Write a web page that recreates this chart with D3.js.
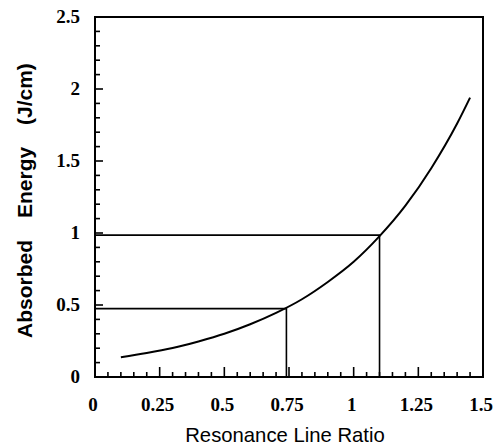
<!DOCTYPE html>
<html><head><meta charset="utf-8">
<script src="https://cdn.jsdelivr.net/npm/d3@7"></script>
<style>html,body{margin:0;padding:0;background:#fff;}</style>
</head><body>
<script>
// Data
const curveX = [0.1, 0.2, 0.3, 0.4, 0.5, 0.6, 0.7, 0.8, 0.9, 1.0, 1.1, 1.2, 1.3, 1.4, 1.45];
const curveY = [0.137, 0.166, 0.201, 0.247, 0.300, 0.366, 0.445, 0.54, 0.66, 0.80, 0.978, 1.19, 1.45, 1.76, 1.94];
const guideX = [0.74, 1.1];
const guideY = [0.475, 0.985];
const xTickLabels = ["0", "0.25", "0.5", "0.75", "1", "1.25", "1.5"];
const xTickValues = [0, 0.25, 0.5, 0.75, 1, 1.25, 1.5];
const yTickLabels = ["0", "0.5", "1", "1.5", "2", "2.5"];
const yTickValues = [0, 0.5, 1, 1.5, 2, 2.5];
const xTitle = "Resonance Line Ratio";
const yTitleWords = ["Absorbed", "Energy", "(J/cm)"];

const W = 497, H = 447;
const m = {left: 95, right: 483, top: 17, bottom: 377};
const svg = d3.select("body").append("svg").attr("width", W).attr("height", H);

const x = d3.scaleLinear().domain([0, 1.5]).range([m.left, m.right]);
const y = d3.scaleLinear().domain([0, 2.5]).range([m.bottom, m.top]);

// minor/major ticks (inward)
const xMinor = d3.range(0, 1.5001, 0.05).map(v => +v.toFixed(2));
const yMinor = d3.range(0, 2.5001, 0.1).map(v => +v.toFixed(2));
const isMajor = (v, step) => Math.abs(v / step - Math.round(v / step)) < 1e-6;

svg.append("g").selectAll("line").data(xMinor).join("line")
  .attr("x1", d => x(d)).attr("x2", d => x(d))
  .attr("y1", y(0)).attr("y2", d => y(0) - (isMajor(d, 0.25) ? 10 : 5))
  .attr("stroke", "#000").attr("stroke-width", 1.6);

svg.append("g").selectAll("line").data(yMinor).join("line")
  .attr("y1", d => y(d)).attr("y2", d => y(d))
  .attr("x1", x(0)).attr("x2", d => x(0) + (isMajor(d, 0.5) ? 8 : 5))
  .attr("stroke", "#000").attr("stroke-width", 1.6);

// frame
svg.append("rect").attr("x", m.left).attr("y", m.top)
  .attr("width", m.right - m.left).attr("height", m.bottom - m.top)
  .attr("fill", "none").attr("stroke", "#000").attr("stroke-width", 2);

// tick labels
svg.append("g").selectAll("text").data(xTickValues).join("text")
  .attr("x", d => x(d) - 2).attr("y", 411)
  .attr("text-anchor", "middle")
  .attr("font-family", "Liberation Serif, Times New Roman, serif")
  .attr("font-size", 19).attr("font-weight", "bold")
  .text((d, i) => xTickLabels[i]);

svg.append("g").selectAll("text").data(yTickValues).join("text")
  .attr("x", 80).attr("y", d => y(d) + 6)
  .attr("text-anchor", "end")
  .attr("font-family", "Liberation Serif, Times New Roman, serif")
  .attr("font-size", 19).attr("font-weight", "bold")
  .text((d, i) => yTickLabels[i]);

// guide lines
guideX.forEach((gx, i) => {
  const gy = guideY[i];
  svg.append("path")
    .attr("d", d3.line()([[x(0), y(gy)], [x(gx), y(gy)], [x(gx), y(0)]]))
    .attr("fill", "none").attr("stroke", "#000").attr("stroke-width", 1.6);
});

// curve
const pts = curveX.map((v, i) => [v, curveY[i]]);
svg.append("path").datum(pts)
  .attr("d", d3.line().x(d => x(d[0])).y(d => y(d[1])).curve(d3.curveMonotoneX))
  .attr("fill", "none").attr("stroke", "#000").attr("stroke-width", 2);

// titles
svg.append("text").attr("x", 285).attr("y", 442)
  .attr("text-anchor", "middle")
  .attr("font-family", "Liberation Sans, Arial, sans-serif")
  .attr("font-size", 20.3)
  .text(xTitle);

const yStarts = [338, 218, 125];
svg.append("g").selectAll("text").data(yTitleWords).join("text")
  .attr("transform", (d, i) => `translate(32,${yStarts[i]}) rotate(-90)`)
  .attr("text-anchor", "start")
  .attr("font-family", "Liberation Sans, Arial, sans-serif")
  .attr("font-size", 21).attr("font-weight", "bold")
  .text(d => d);
</script>
</body></html>
